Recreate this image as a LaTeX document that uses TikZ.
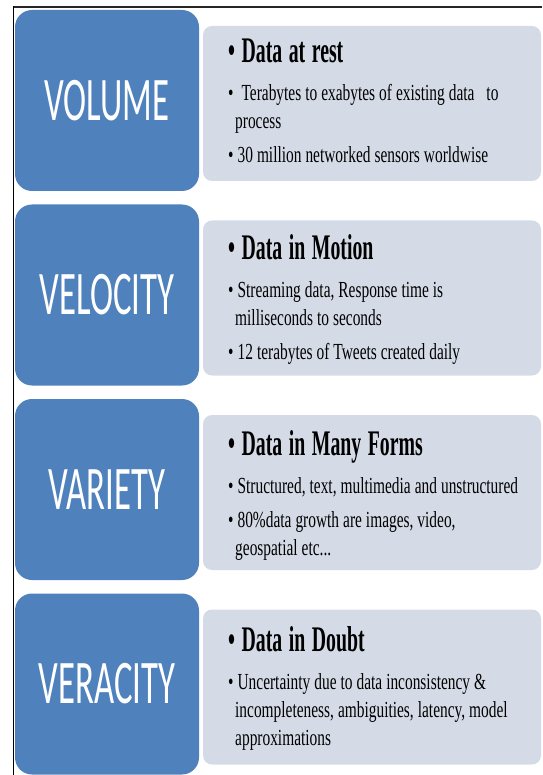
\documentclass[tikz,border=0pt]{standalone}
\usepackage{fontspec}
\usepackage{tikz}
\usetikzlibrary{positioning}

\setmainfont{Liberation Serif}
\newfontfamily\termfont[FakeStretch=0.56]{Carlito}
\newfontfamily\headfont[FakeStretch=0.55]{Liberation Serif}
\newfontfamily\bodyfont[FakeStretch=0.67]{Liberation Serif}

\definecolor{termblue}{RGB}{79,129,189}
\definecolor{panelgray}{RGB}{213,219,230}

\newcommand{\bodysetup}{\bodyfont\fontsize{23}{28}\selectfont
    \parskip=0pt\relax\hyphenpenalty=10000\relax}

% bold heading line and the bullet points under it
% (narrow word spaces to go with the squeezed letters)
\newcommand{\infohead}[1]{\noindent{\headfont\bfseries\fontsize{36}{40}\selectfont\spaceskip=6.5pt plus 1pt\relax\textbullet\ #1}\par\vspace{10pt}}
\newcommand{\infoitem}[1]{\noindent\spaceskip=4pt plus 1pt\relax\hangindent=7pt\hangafter=1 \textbullet\ #1\par}

\begin{document}
\begin{tikzpicture}[x=1pt, y=-1pt,
    term/.style={rectangle, rounded corners=17pt, fill=termblue, text=white,
        minimum width=184pt, minimum height=181pt, inner sep=0pt,
        font=\termfont\fontsize{62}{62}\selectfont},
    panel/.style={rectangle, rounded corners=9pt, fill=panelgray,
        minimum width=338pt, minimum height=155pt},
    infotext/.style={anchor=base west, inner sep=0pt, text width=310pt, align=left,
        font=\bodysetup}]
    \useasboundingbox (0,0) rectangle (542,775);

    % grey panels
    \node[panel] (volume-panel) at (372,103.5) {};
    \node[panel] (velocity-panel) at (372,298) {};
    \node[panel] (variety-panel) at (372,492.5) {};
    \node[panel] (veracity-panel) at (372,687) {};

    % blue terms
    \node[term] (volume) at (107,100.5) {VOLUME};
    \node[term] (velocity) at (107,295) {VELOCITY};
    \node[term] (variety) at (107,489.5) {VARIETY};
    \node[term] (veracity) at (107,684) {VERACITY};

    \node[infotext] (volume-text) at (228,63) {%
        \infohead{Data at rest}
        \infoitem{\ Terabytes to exabytes of existing data \ \ to\newline process}
        \vspace{6pt}
        \infoitem{30 million networked sensors worldwise}};
    \node[infotext] (velocity-text) at (228,259) {%
        \infohead{Data in Motion}
        \infoitem{Streaming data, Response time is\newline milliseconds to seconds}
        \vspace{6pt}
        \infoitem{12 terabytes of Tweets created daily}};
    \node[infotext] (variety-text) at (228,455) {%
        \infohead{Data in Many Forms}
        \infoitem{Structured, text, multimedia and unstructured}
        \vspace{6pt}
        \infoitem{80\%data growth are images, video,\newline geospatial etc...}};
    \node[infotext] (veracity-text) at (228,651) {%
        \infohead{Data in Doubt}
        \infoitem{Uncertainty due to data inconsistency \&\newline incompleteness, ambiguities, latency, model\newline approximations}};

    % frame on top and left
    \draw[line width=2pt, black!85] (13,7) -- (542,7);
    \draw[line width=1.5pt] (13.5,6) -- (13.5,775);
\end{tikzpicture}
\end{document}
